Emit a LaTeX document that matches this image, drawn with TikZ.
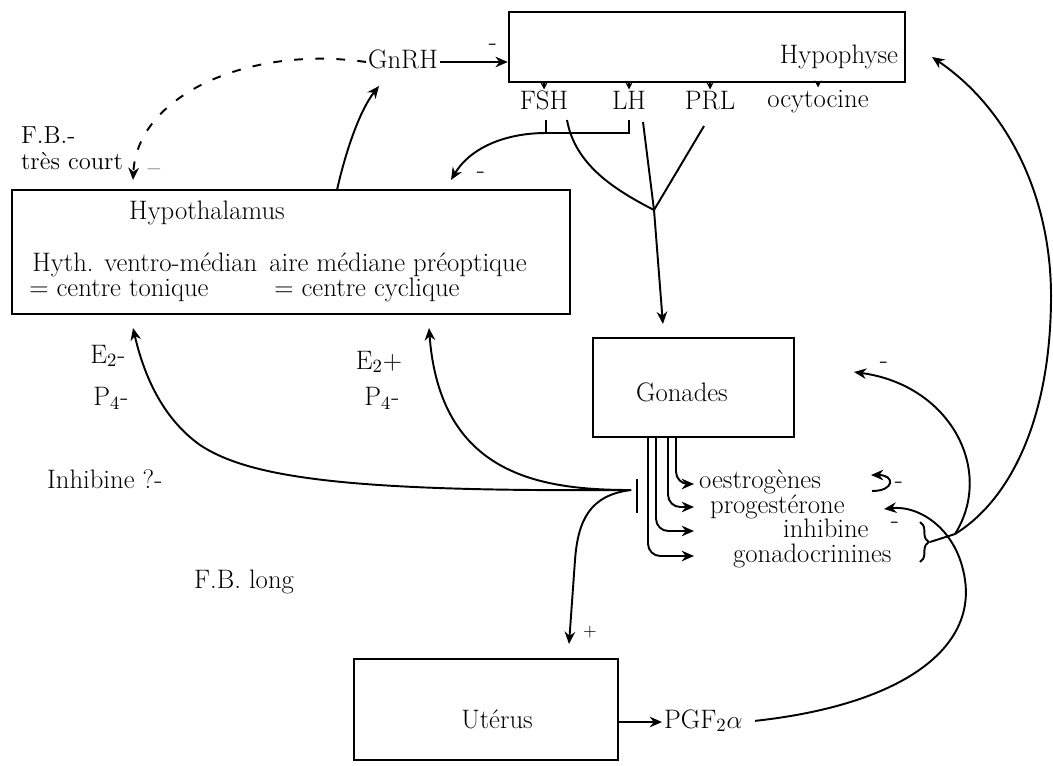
\documentclass[tikz,border=0pt]{standalone}
\usepackage{tikz}
\usetikzlibrary{arrows.meta,fit,decorations.pathreplacing}

\begin{document}
\begin{tikzpicture}[%
  x=0.02cm, y=-0.02cm,
  box/.style = {draw, line width=1.4pt, inner sep=0pt},
  lbl/.style = {inner sep=1pt, text height=10pt, text depth=3pt,
                font=\fontsize{15.2}{18}\selectfont},
  small/.style = {inner sep=1pt, font=\fontsize{10}{12}\selectfont},
  wire/.style = {line width=1.1pt},
  tick/.style = {line width=0.9pt, -{Stealth[length=4pt,width=4pt]}},
  >={Stealth[length=7pt,width=6pt]},
]
  \useasboundingbox (0,0) rectangle (1053,765);

  % boxes
  \node[box, fit={(509,12) (905,82)}] (hypophyse) {};
  \node[box, fit={(12,190) (570,314)}] (hypothalamus) {};
  \node[box, fit={(593,338) (794,437)}] (gonades) {};
  \node[box, fit={(354,659) (618,760)}] (uterus) {};

  \node[lbl, anchor=east] (hypophysetxt) at (900,57) {Hypophyse};
  \node[lbl] (hypothaltxt) at (207,213) {Hypothalamus};
  \node[lbl, inner sep=0pt, anchor=west] (vmtxt) at (32,265) {Hyth. ventro-médian};
  \node[lbl, inner sep=0pt, anchor=west] (amptxt) at (269,265) {aire médiane préoptique};
  \node[lbl, inner sep=0pt, anchor=west] (tontxt) at (29,290) {= centre tonique};
  \node[lbl, inner sep=0pt, anchor=west] (cyctxt) at (274,290) {= centre cyclique};
  \node[lbl] (gonadestxt) at (682,395) {Gonades};
  \node[lbl] (uterustxt) at (497,722) {Utérus};

  % hormones
  \node[lbl] (gnrh) at (403,62) {GnRH};
  \node[lbl] (fsh) at (544,103) {FSH};
  \node[lbl] (lh) at (629,103) {LH};
  \node[lbl] (prl) at (710,103) {PRL};
  \node[lbl] (ocyto) at (818,101) {ocytocine};

  \foreach \n in {fsh,lh,prl,ocyto}
    \draw[tick] (hypophyse.south -| \n.north) -- (\n.north);

  \draw[wire, ->] (gnrh) -- (hypophyse.west |- gnrh);
  \node[lbl] (m1) at (493,44) {-};

  \coordinate (hyup) at (337,190);
  \coordinate (gnrhin) at (379,86);
  \draw[wire, ->] (hyup) .. controls (346,150) and (360,110) .. (gnrhin);

  \coordinate (fbtip) at (133,180);
  \draw[wire, dashed, dash pattern=on 5pt off 7pt, ->]
    (gnrh.west) .. controls (250,45) and (137,95) .. (fbtip);
  \node[lbl] (m2) at (154,170) {--};
  \node[lbl, anchor=west, font=\fontsize{14}{16}\selectfont] (fb) at (19,137) {F.B.-};
  \node[lbl, anchor=west, font=\fontsize{14}{16}\selectfont] (court) at (19,163) {très court};

  % FSH / LH / PRL
  \coordinate (fshl) at (546,120);
  \coordinate (fshr) at (567,120);
  \coordinate (lhl) at (629,120);
  \coordinate (lhr) at (643,122);
  \coordinate (prlr) at (704,126);
  \coordinate (hub) at (654,210);
  \coordinate (fbc) at (451,180);
  \coordinate (gtop) at (664,338);

  \draw[wire] (fshl) -- (546,133);
  \draw[wire, ->] (lhl) |- (546,133) .. controls (505,133) and (470,148) .. (fbc);
  \node[lbl] (m3) at (481,172) {-};
  \draw[wire] (fshr) .. controls (575,165) and (615,190) .. (hub);
  \draw[wire] (lhr) -- (hub);
  \draw[wire] (prlr) -- (hub);
  \draw[wire, ->, shorten >=8pt] (hub) -- (gtop);

  % feedback from the gonads
  \coordinate (inh) at (631,490);
  \coordinate (barT) at (637,479);
  \coordinate (barB) at (637,513);
  \coordinate (e2mtip) at (133,328);
  \coordinate (e2ptip) at (429,328);
  \coordinate (utin) at (569,644);
  \draw[wire] (barT) -- (barB);
  \draw[wire, ->] (inh) .. controls (350,492) and (250,478) .. (200,445)
    .. controls (165,420) and (145,380) .. (e2mtip);
  \draw[wire, ->] (inh) .. controls (540,490) and (440,475) .. (e2ptip);
  \draw[wire, ->] (inh) .. controls (590,495) and (578,520) .. (575,560) -- (utin);
  \node[small] (plus) at (590,632) {+};

  \node[lbl] (e2a) at (108,357) {E\textsubscript{2}-};
  \node[lbl] (p4a) at (111,399) {P\textsubscript{4}-};
  \node[lbl] (e2b) at (379,363) {E\textsubscript{2}+};
  \node[lbl] (p4b) at (382,399) {P\textsubscript{4}-};
  \node[lbl, anchor=west] (inhq) at (45,482) {Inhibine ?-};
  \node[lbl, anchor=west] (fblong) at (192,582) {F.B. long};

  % gonadal secretions
  \foreach \x/\y in {676/484, 668/507, 656/531, 648/556}
    \draw[wire, ->, rounded corners=7pt] (\x,437) |- (694,\y);

  \node[lbl, anchor=west] (oestro) at (697,482) {oestrogènes};
  \node[lbl, anchor=west] (proges) at (708,507) {progestérone};
  \node[lbl, anchor=west] (inhib) at (781,531) {inhibine};
  \node[lbl, anchor=west] (gonado) at (731,556) {gonadocrinines};

  \draw[wire, decorate, decoration={brace, amplitude=5pt}] (920,522) -- (920,562);

  \coordinate (brtip) at (930,542);
  \coordinate (kn) at (955,534);
  \coordinate (hypin) at (932,57);
  \coordinate (gonin) at (854,372);
  \draw[wire] (brtip) -- (kn);
  \draw[wire, ->] (kn) .. controls (1010,500) and (1050,420) .. (1051,300)
    .. controls (1052,200) and (1010,110) .. (hypin);
  \draw[wire, ->] (kn) .. controls (995,470) and (950,385) .. (gonin);
  \node[lbl] (m4) at (884,362) {-};

  \coordinate (oesa) at (872,491);
  \coordinate (oesb) at (871,475);
  \draw[wire, ->] (oesa) .. controls (895,491) and (895,475) .. (oesb);
  \node[lbl] (m5) at (899,482) {-};
  \node[lbl] (m6) at (895,522) {-};

  % uterus
  \node[lbl, anchor=west] (pgf) at (662,722) {PGF\textsubscript{2}$\alpha$};
  \coordinate (progin) at (884,509);
  \draw[wire, ->] (uterus.east |- pgf) -- (pgf.west);
  \draw[wire, ->, shorten <=6pt] (pgf.east) .. controls (900,705) and (975,650) .. (965,580)
    .. controls (958,530) and (920,505) .. (progin);
\end{tikzpicture}
\end{document}
